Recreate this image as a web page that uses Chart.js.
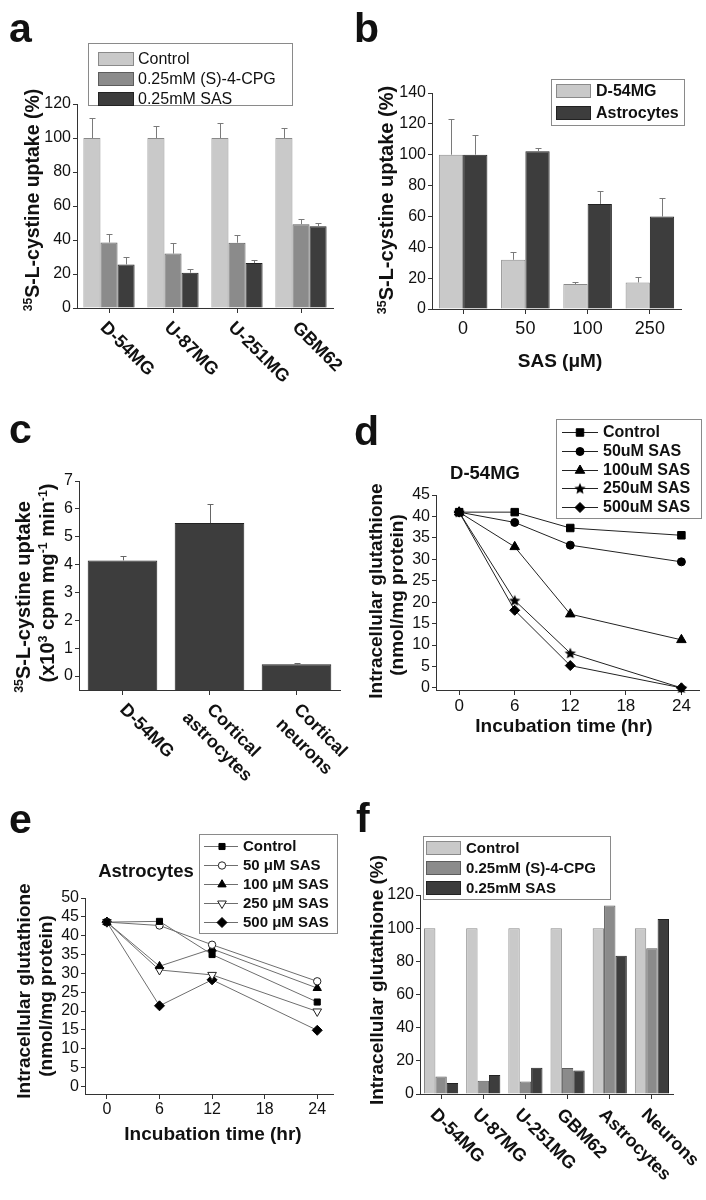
<!DOCTYPE html>
<html>
<head>
<meta charset="utf-8">
<title>Cystine uptake and glutathione</title>
<script src="https://cdn.jsdelivr.net/npm/chart.js@4.4.1/dist/chart.umd.min.js"></script>
<style>
  html, body { margin: 0; padding: 0; background: #fff; }
  body { position: relative; width: 706px; height: 1200px; overflow: hidden; }
  canvas { position: absolute; width: 353px; height: 400px; }
</style>
</head>
<body>
<canvas id="panelA" width="353" height="400" style="left:0;top:0"></canvas>
<canvas id="panelB" width="353" height="400" style="left:353px;top:0"></canvas>
<canvas id="panelC" width="353" height="400" style="left:0;top:400px"></canvas>
<canvas id="panelD" width="353" height="400" style="left:353px;top:400px"></canvas>
<canvas id="panelE" width="353" height="400" style="left:0;top:800px"></canvas>
<canvas id="panelF" width="353" height="400" style="left:353px;top:800px"></canvas>
<script>
var FONT = '"Liberation Sans", Arial, Helvetica, sans-serif';
var INK = '#111111';
var AXIS = '#333333';
var LIGHT = '#c9c9c9', LIGHT_EDGE = '#8a8a8a';
var MID = '#8b8b8b', MID_EDGE = '#5c5c5c';
var DARK = '#3d3d3d', DARK_EDGE = '#222222';

// a - 35S-L-cystine uptake in glioma lines (%)
var gliomaLines = ['D-54MG', 'U-87MG', 'U-251MG', 'GBM62'];
var aControl = [100, 100, 100, 100];
var aControlErr = [12, 7, 9, 6];
var aCpg = [38.5, 32, 38.4, 49.3];
var aCpgErr = [5, 6, 4.5, 3];
var aSas = [25.6, 20.7, 26.4, 48.1];
var aSasErr = [4.4, 2, 1.8, 1.9];
var aTicks = [0, 20, 40, 60, 80, 100, 120];

// b - uptake vs SAS dose
var sasDoses = ['0', '50', '100', '250'];
var bD54 = [100, 31.9, 16.2, 17.2];
var bD54Err = [23, 5, 1.5, 3.7];
var bAstro = [100, 102.3, 68.1, 59.9];
var bAstroErr = [13, 2.2, 8.4, 11.8];
var bTicks = [0, 20, 40, 60, 80, 100, 120, 140];

// c - absolute uptake
var cellTypes = [['D-54MG'], ['Cortical', 'astrocytes'], ['Cortical', 'neurons']];
var cUptake = [4.15, 5.49, 0.42];
var cUptakeErr = [0.17, 0.7, 0.05];
var cTicks = [0, 1, 2, 3, 4, 5, 6, 7];
var cAxisMin = -0.5;

// d, e - glutathione time course
var hours = [0, 6, 12, 24];
var hourTicks = [0, 6, 12, 18, 24];
var dControl = [41, 41, 37.3, 35.6];
var d50 = [41, 38.6, 33.3, 29.4];
var d100 = [41, 32.9, 17.2, 11.2];
var d250 = [41, 20.4, 8.1, 0];
var d500 = [41, 18.1, 5.2, 0];
var dTicks = [0, 5, 10, 15, 20, 25, 30, 35, 40, 45];

var eControl = [43.6, 43.8, 35, 22.4];
var e50 = [43.6, 42.7, 37.6, 27.9];
var e100 = [43.6, 31.9, 36.5, 26.1];
var e250 = [43.6, 30.9, 29.6, 19.9];
var e500 = [43.6, 21.4, 28.3, 14.9];
var eTicks = [0, 5, 10, 15, 20, 25, 30, 35, 40, 45, 50];

// f - glutathione (%)
var gshCells = ['D-54MG', 'U-87MG', 'U-251MG', 'GBM62', 'Astrocytes', 'Neurons'];
var fControl = [100, 100, 100, 100, 100, 100];
var fCpg = [10.6, 8, 7.6, 15.7, 113.6, 87.9];
var fSas = [6.6, 11.4, 15.9, 14.2, 83.3, 105.6];
var fTicks = [0, 20, 40, 60, 80, 100, 120];

Chart.defaults.font.family = FONT;
Chart.defaults.color = INK;
Chart.defaults.animation = false;
Chart.defaults.responsive = false;
Chart.defaults.plugins.legend.display = false;
Chart.defaults.plugins.tooltip.enabled = false;

// ---- helpers
function yAxis(width, min, max, ticks, size) {
  return {
    type: 'linear', min: min, max: max,
    afterFit: function (s) { s.width = width; },
    afterBuildTicks: function (s) { s.ticks = ticks.map(function (v) { return { value: v }; }); },
    grid: { drawOnChartArea: false, tickLength: 4, color: AXIS },
    border: { color: AXIS },
    ticks: { color: INK, padding: 2, autoSkip: false, font: { size: size } }
  };
}

function catAxis(height, showTicks, size, pad) {
  return {
    type: 'category', offset: true,
    afterFit: function (s) { s.height = height; },
    grid: { drawOnChartArea: false, offset: false, tickLength: 5, color: AXIS },
    border: { color: AXIS },
    ticks: { display: !!showTicks, color: INK, padding: pad || 4, font: { size: size || 16 }, maxRotation: 0, autoSkip: false }
  };
}

function hourAxis(height, min, max, size) {
  return {
    type: 'linear', min: min, max: max,
    afterFit: function (s) { s.height = height; },
    afterBuildTicks: function (s) { s.ticks = hourTicks.map(function (v) { return { value: v }; }); },
    grid: { drawOnChartArea: false, tickLength: 5, color: AXIS },
    border: { color: AXIS },
    ticks: { color: INK, padding: 1, autoSkip: false, maxRotation: 0, font: { size: size } }
  };
}

function barSet(label, data, errors, fill, edge, pct) {
  return {
    label: label, data: data, errors: errors,
    backgroundColor: fill, borderColor: edge, borderWidth: 1,
    barPercentage: 1, categoryPercentage: pct || 0.8
  };
}

function lineSet(label, ys, style, extra) {
  var ds = {
    label: label,
    data: hours.map(function (h, i) { return { x: h, y: ys[i] }; }),
    borderColor: '#222', borderWidth: 1, tension: 0, fill: false, clip: false,
    pointStyle: style, pointRadius: 5, pointRotation: 0,
    pointBackgroundColor: '#000', pointBorderColor: '#000', pointBorderWidth: 1
  };
  for (var k in extra) ds[k] = extra[k];
  return ds;
}

function starImage(r) {
  var c = document.createElement('canvas');
  c.width = c.height = Math.ceil(2 * r + 2);
  var g = c.getContext('2d');
  g.translate(c.width / 2, c.height / 2 + 0.5);
  g.beginPath();
  for (var i = 0; i < 10; i++) {
    var rr = i % 2 ? r * 0.45 : r;
    var a = -Math.PI / 2 + i * Math.PI / 5;
    g.lineTo(rr * Math.cos(a), rr * Math.sin(a));
  }
  g.closePath();
  g.fillStyle = '#000';
  g.fill();
  return c;
}

// upward-only error bars
var errorBars = {
  id: 'errorBars',
  afterDatasetsDraw: function (chart) {
    var ctx = chart.ctx, ys = chart.scales.y;
    ctx.save();
    ctx.lineWidth = 1;
    chart.data.datasets.forEach(function (ds, i) {
      if (!ds.errors) return;
      ctx.strokeStyle = ds.errorColor || '#7a7a7a';
      chart.getDatasetMeta(i).data.forEach(function (bar, j) {
        var x = Math.round(bar.x) + 0.5;
        var top = Math.round(ys.getPixelForValue(ds.data[j] + ds.errors[j])) + 0.5;
        ctx.beginPath();
        ctx.moveTo(x, bar.y);
        ctx.lineTo(x, top);
        ctx.moveTo(x - 3, top);
        ctx.lineTo(x + 3, top);
        ctx.stroke();
      });
    });
    ctx.restore();
  }
};

// legend box drawn inside the plot
function boxLegend(o) {
  return {
    id: 'boxLegend',
    afterDraw: function (chart) {
      var ctx = chart.ctx, b = o.box;
      ctx.save();
      ctx.fillStyle = '#fff';
      ctx.fillRect(b[0], b[1], b[2], b[3]);
      ctx.strokeStyle = '#8a8a8a';
      ctx.lineWidth = 1;
      ctx.strokeRect(b[0] + 0.5, b[1] + 0.5, b[2], b[3]);
      ctx.font = o.font;
      ctx.textBaseline = 'middle';
      ctx.textAlign = 'left';
      chart.data.datasets.forEach(function (ds, i) {
        var y = Math.round(o.y0 + i * o.step);
        if (o.kind === 'box') {
          ctx.fillStyle = ds.backgroundColor;
          ctx.fillRect(o.sx, y - o.sh / 2, o.sw, o.sh);
          ctx.strokeStyle = ds.borderColor;
          ctx.strokeRect(o.sx + 0.5, y - o.sh / 2 + 0.5, o.sw - 1, o.sh - 1);
        } else {
          ctx.strokeStyle = ds.borderColor;
          ctx.lineWidth = ds.borderWidth;
          ctx.beginPath();
          ctx.moveTo(o.lx0, y + 0.5);
          ctx.lineTo(o.lx1, y + 0.5);
          ctx.stroke();
          ctx.fillStyle = ds.pointBackgroundColor;
          ctx.strokeStyle = ds.pointBorderColor;
          ctx.lineWidth = ds.pointBorderWidth;
          Chart.helpers.drawPoint(ctx, {
            pointStyle: ds.pointStyle, rotation: ds.pointRotation || 0,
            radius: ds.pointRadius, borderWidth: ds.pointBorderWidth
          }, o.mx, y + 0.5);
        }
        ctx.fillStyle = INK;
        ctx.fillText(ds.label, o.tx, y + 1);
      });
      ctx.restore();
    }
  };
}

// x labels rotated 45 degrees clockwise, first line starting at the tick
function slantLabels(o) {
  return {
    id: 'slantLabels',
    afterDraw: function (chart) {
      var ctx = chart.ctx, xs = chart.scales.x, axisY = chart.chartArea.bottom;
      ctx.save();
      ctx.font = 'bold ' + o.size + 'px ' + FONT;
      ctx.fillStyle = INK;
      ctx.textBaseline = 'middle';
      o.labels.forEach(function (lab, i) {
        var lines = [].concat(lab);
        var w1 = ctx.measureText(lines[0]).width;
        ctx.save();
        ctx.translate(xs.getPixelForTick(i) + o.dx, axisY + o.dy);
        ctx.rotate(Math.PI / 4);
        ctx.textAlign = 'left';
        ctx.fillText(lines[0], 0, 0);
        ctx.textAlign = 'center';
        for (var k = 1; k < lines.length; k++) ctx.fillText(lines[k], w1 / 2, k * o.lh);
        ctx.restore();
      });
      ctx.restore();
    }
  };
}

// titles and panel letters, with superscript parts
function texts(items) {
  return {
    id: 'texts',
    afterDraw: function (chart) {
      var ctx = chart.ctx;
      items.forEach(function (it) {
        var parts = typeof it.t === 'string' ? [[it.t, 0]] : it.t;
        var size = it.size;
        var font = function (sup) { return (it.normal ? '' : 'bold ') + (sup ? size * 0.62 : size) + 'px ' + FONT; };
        var w = 0;
        parts.forEach(function (p) { ctx.font = font(p[1]); w += ctx.measureText(p[0]).width; });
        ctx.save();
        ctx.translate(it.x, it.y);
        if (it.rot) ctx.rotate(it.rot * Math.PI / 180);
        ctx.fillStyle = INK;
        ctx.textAlign = 'left';
        ctx.textBaseline = 'alphabetic';
        var x = it.align === 'left' ? 0 : -w / 2;
        var base = it.base ? 0 : size * 0.36;
        parts.forEach(function (p) {
          ctx.font = font(p[1]);
          ctx.fillText(p[0], x, p[1] ? base - size * 0.38 : base);
          x += ctx.measureText(p[0]).width;
        });
        ctx.restore();
      });
    }
  };
}

var uptakePct = [['35', 1], ['S-L-cystine uptake (%)', 0]];
var LETTER = 41;

// ---- a
new Chart(document.getElementById('panelA'), {
  type: 'bar',
  data: {
    labels: gliomaLines,
    datasets: [
      barSet('Control', aControl, aControlErr, LIGHT, LIGHT_EDGE),
      barSet('0.25mM (S)-4-CPG', aCpg, aCpgErr, MID, MID_EDGE),
      barSet('0.25mM SAS', aSas, aSasErr, DARK, DARK_EDGE)
    ]
  },
  options: {
    layout: { padding: { top: 104, right: 20, bottom: 0, left: 0 } },
    scales: { x: catAxis(92), y: yAxis(77, 0, 120, aTicks, 16) }
  },
  plugins: [
    errorBars,
    boxLegend({ box: [88, 43, 204, 62], kind: 'box', font: '16px ' + FONT, y0: 59, step: 20, sx: 98, sw: 36, sh: 14, tx: 138 }),
    slantLabels({ labels: gliomaLines, size: 18, dx: -6, dy: 17, lh: 22 }),
    texts([
      { t: 'a', x: 9, y: 42, size: LETTER, align: 'left', base: true },
      { t: uptakePct, x: 32, y: 200, rot: -90, size: 19.5 }
    ])
  ]
});

// ---- b
new Chart(document.getElementById('panelB'), {
  type: 'bar',
  data: {
    labels: sasDoses,
    datasets: [
      barSet('D-54MG', bD54, bD54Err, LIGHT, LIGHT_EDGE, 0.78),
      barSet('Astrocytes', bAstro, bAstroErr, DARK, DARK_EDGE, 0.78)
    ]
  },
  options: {
    layout: { padding: { top: 93, right: 25, bottom: 0, left: 0 } },
    scales: { x: catAxis(91, true, 18, 4), y: yAxis(79, 0, 140, bTicks, 16) }
  },
  plugins: [
    errorBars,
    boxLegend({ box: [198, 79, 133, 46], kind: 'box', font: 'bold 16px ' + FONT, y0: 91, step: 22, sx: 203, sw: 35, sh: 14, tx: 243 }),
    texts([
      { t: 'b', x: 1, y: 42, size: LETTER, align: 'left', base: true },
      { t: uptakePct, x: 33, y: 200, rot: -90, size: 20 },
      { t: 'SAS (\u03bcM)', x: 207, y: 360, size: 19 }
    ])
  ]
});

// ---- c
new Chart(document.getElementById('panelC'), {
  type: 'bar',
  data: {
    labels: cellTypes,
    datasets: [
      { label: 'Uptake', data: cUptake, errors: cUptakeErr, base: cAxisMin,
        backgroundColor: DARK, borderColor: DARK_EDGE, borderWidth: 1,
        barPercentage: 1, categoryPercentage: 0.8, errorColor: '#666' }
    ]
  },
  options: {
    layout: { padding: { top: 81, right: 13, bottom: 0, left: 0 } },
    scales: { x: catAxis(110), y: yAxis(79, cAxisMin, 7, cTicks, 16) }
  },
  plugins: [
    errorBars,
    slantLabels({ labels: cellTypes, size: 18, dx: 0, dy: 17, lh: 23 }),
    texts([
      { t: 'c', x: 9, y: 43, size: LETTER, align: 'left', base: true },
      { t: [['35', 1], ['S-L-cystine uptake', 0]], x: 23, y: 197, rot: -90, size: 20 },
      { t: [['(x10', 0], ['3', 1], [' cpm mg', 0], ['-1', 1], [' min', 0], ['-1', 1], [')', 0]], x: 47, y: 183, rot: -90, size: 20 }
    ])
  ]
});

// ---- d
var starMark = starImage(6);
new Chart(document.getElementById('panelD'), {
  type: 'line',
  data: {
    datasets: [
      lineSet('Control', dControl, 'rect', { pointRadius: 5.3 }),
      lineSet('50uM SAS', d50, 'circle', { pointRadius: 4 }),
      lineSet('100uM SAS', d100, 'triangle', { pointRadius: 5.5 }),
      lineSet('250uM SAS', d250, starMark, { pointRadius: 6 }),
      lineSet('500uM SAS', d500, 'rectRot', { pointRadius: 5 })
    ]
  },
  options: {
    layout: { padding: { top: 95, right: 5, bottom: 0, left: 0 } },
    scales: { x: hourAxis(110, -2.5, 25.9, 17), y: yAxis(83, -0.5, 45, dTicks, 16) }
  },
  plugins: [
    boxLegend({ box: [203, 19, 145, 99], kind: 'line', font: 'bold 16px ' + FONT, y0: 32, step: 18.8, lx0: 209, lx1: 245, mx: 227, tx: 250 }),
    texts([
      { t: 'd', x: 1, y: 45, size: LETTER, align: 'left', base: true },
      { t: 'D-54MG', x: 132, y: 72, size: 18.5 },
      { t: 'Intracellular glutathione', x: 22, y: 191, rot: -90, size: 19 },
      { t: '(nmol/mg protein)', x: 43, y: 195, rot: -90, size: 19 },
      { t: 'Incubation time (hr)', x: 211, y: 325, size: 19 }
    ])
  ]
});

// ---- e
function eOpts(o) { var r = { borderColor: '#6e6e6e' }; for (var k in o) r[k] = o[k]; return r; }
new Chart(document.getElementById('panelE'), {
  type: 'line',
  data: {
    datasets: [
      lineSet('Control', eControl, 'rect', eOpts({ pointRadius: 4.3 })),
      lineSet('50 \u03bcM SAS', e50, 'circle', eOpts({ pointRadius: 3.7, pointBackgroundColor: '#fff', pointBorderColor: '#222' })),
      lineSet('100 \u03bcM SAS', e100, 'triangle', eOpts({ pointRadius: 4.8 })),
      lineSet('250 \u03bcM SAS', e250, 'triangle', eOpts({ pointRadius: 5, pointRotation: 180, pointBackgroundColor: '#fff', pointBorderColor: '#222' })),
      lineSet('500 \u03bcM SAS', e500, 'rectRot', eOpts({ pointRadius: 5 }))
    ]
  },
  options: {
    layout: { padding: { top: 98, right: 20, bottom: 0, left: 0 } },
    scales: { x: hourAxis(106, -2.5, 25.8, 16), y: yAxis(85, -2, 50, eTicks, 16) }
  },
  plugins: [
    boxLegend({ box: [199, 34, 138, 99], kind: 'line', font: 'bold 15px ' + FONT, y0: 46, step: 19, lx0: 204, lx1: 238, mx: 222, tx: 243 }),
    texts([
      { t: 'e', x: 9, y: 33, size: LETTER, align: 'left', base: true },
      { t: 'Astrocytes', x: 146, y: 70, size: 18.5 },
      { t: 'Intracellular glutathione', x: 23, y: 191, rot: -90, size: 19 },
      { t: '(nmol/mg protein)', x: 45, y: 196, rot: -90, size: 19 },
      { t: 'Incubation time (hr)', x: 213, y: 333, size: 19 }
    ])
  ]
});

// ---- f
new Chart(document.getElementById('panelF'), {
  type: 'bar',
  data: {
    labels: gshCells,
    datasets: [
      barSet('Control', fControl, null, LIGHT, LIGHT_EDGE, 0.81),
      barSet('0.25mM (S)-4-CPG', fCpg, null, MID, MID_EDGE, 0.81),
      barSet('0.25mM SAS', fSas, null, DARK, DARK_EDGE, 0.81)
    ]
  },
  options: {
    layout: { padding: { top: 95, right: 33, bottom: 0, left: 0 } },
    scales: { x: catAxis(106), y: yAxis(67, 0, 120, fTicks, 16) }
  },
  plugins: [
    boxLegend({ box: [70, 36, 187, 63], kind: 'box', font: 'bold 15px ' + FONT, y0: 48, step: 20, sx: 73, sw: 35, sh: 14, tx: 113 }),
    slantLabels({ labels: gshCells, size: 18, dx: -8, dy: 18, lh: 22 }),
    texts([
      { t: 'f', x: 3, y: 32, size: LETTER, align: 'left', base: true },
      { t: 'Intracellular glutathione (%)', x: 23, y: 180, rot: -90, size: 19 }
    ])
  ]
});
</script>
</body>
</html>
